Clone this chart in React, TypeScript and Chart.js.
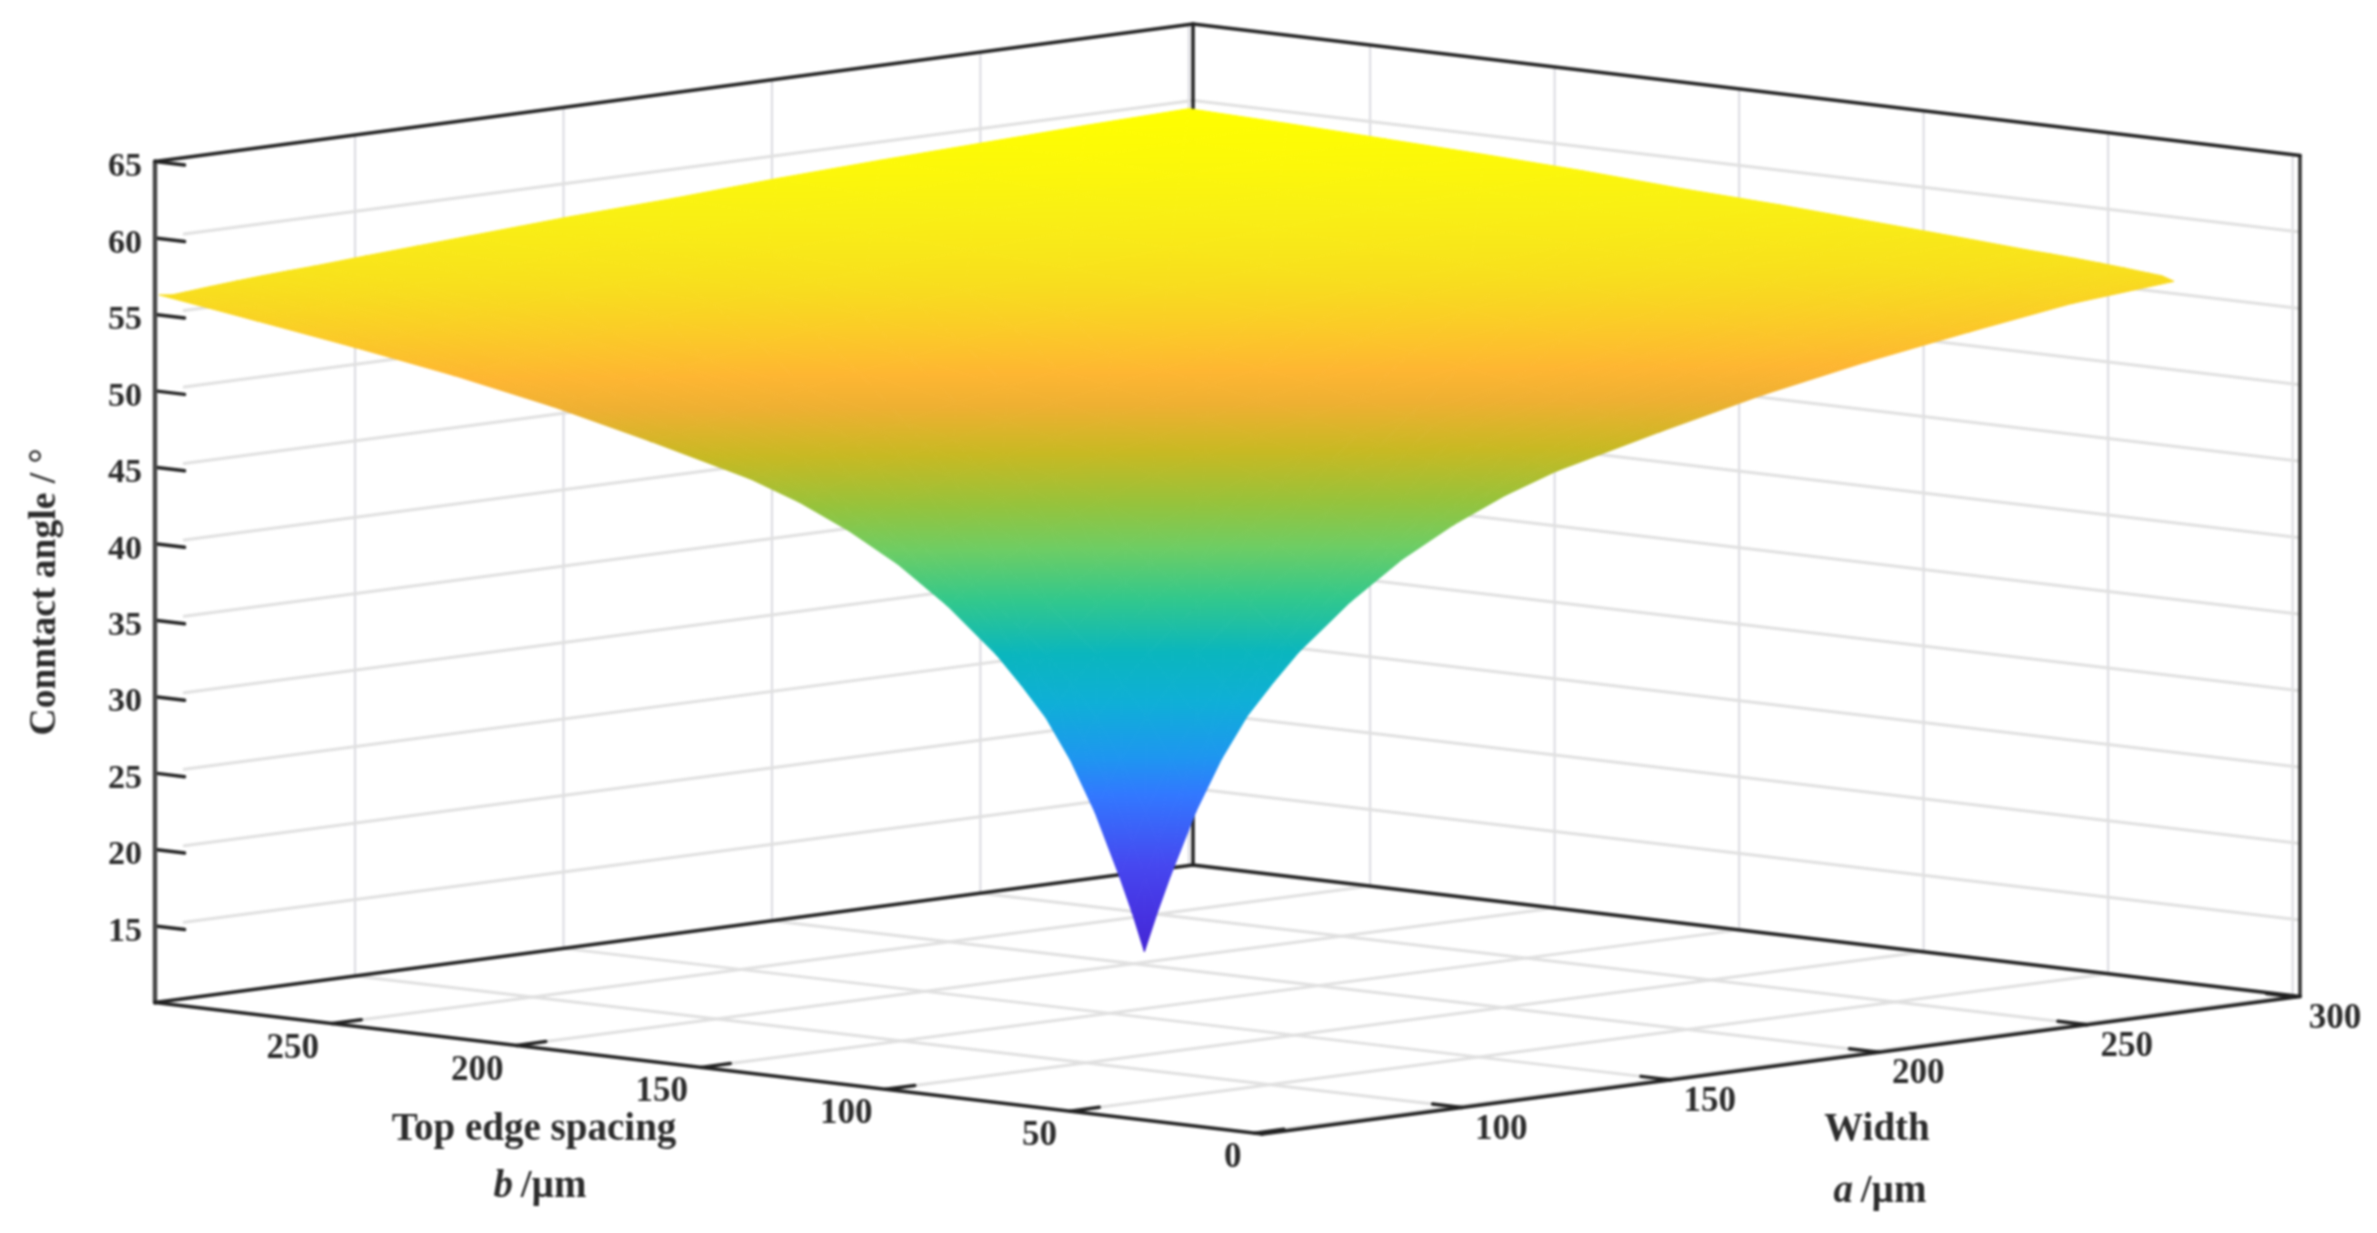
import React, { useEffect, useRef } from "react";
import { Chart, registerables } from "chart.js";

Chart.register(...registerables);

// ---- axis limits and ticks ----
const aLimits = [52, 301];
const bLimits = [-2, 298];
const zLimits = [10, 65];
const aTicks = [100, 150, 200, 250, 300];
const bTicks = [0, 50, 100, 150, 200, 250];
const zTicks = [15, 20, 25, 30, 35, 40, 45, 50, 55, 60, 65];

// ---- surface ----
const aValues = [53, 56.1, 59.2, 65.4, 71.5, 77.7, 83.9, 90, 102.4, 114.8, 127.1, 139.5, 151.8, 176.5, 201.2, 225.9, 250.6, 275.3, 300];
const bValues = [31, 34.3, 37.7, 44.4, 51, 57.7, 64.4, 71, 84.4, 97.8, 111.1, 124.5, 137.8, 164.5, 191.2, 217.9, 244.6, 271.3, 298];
const contactAngle = [
  [20.94, 23.39, 25.63, 29.68, 32.87, 35.47, 37.42, 39.18, 42.03, 44.36, 46.17, 47.65, 48.8, 50.46, 51.99, 53.25, 54.31, 55.29, 56.24],
  [23.39, 25.63, 27.75, 31.41, 34.27, 36.48, 38.33, 39.92, 42.65, 44.85, 46.56, 47.97, 49.06, 50.65, 52.14, 53.37, 54.44, 55.41, 56.13],
  [25.63, 27.75, 29.68, 32.87, 35.47, 37.42, 39.18, 40.63, 43.2, 45.33, 46.94, 48.26, 49.28, 50.84, 52.3, 53.5, 54.57, 55.5, 56.2],
  [29.68, 31.41, 32.87, 35.47, 37.42, 39.18, 40.63, 42.03, 44.36, 46.17, 47.65, 48.8, 49.7, 51.22, 52.61, 53.78, 54.82, 55.69, 56.35],
  [32.87, 34.27, 35.47, 37.42, 39.18, 40.63, 42.03, 43.2, 45.33, 46.94, 48.26, 49.28, 50.08, 51.6, 52.93, 54.07, 55.07, 55.88, 56.48],
  [35.47, 36.48, 37.42, 39.18, 40.63, 42.03, 43.2, 44.36, 46.17, 47.65, 48.8, 49.7, 50.46, 51.99, 53.25, 54.31, 55.29, 56.06, 56.6],
  [37.42, 38.33, 39.18, 40.63, 42.03, 43.2, 44.36, 45.33, 46.94, 48.26, 49.28, 50.08, 50.84, 52.3, 53.5, 54.57, 55.5, 56.2, 56.7],
  [39.18, 39.92, 40.63, 42.03, 43.2, 44.36, 45.33, 46.17, 47.65, 48.8, 49.7, 50.46, 51.22, 52.61, 53.78, 54.82, 55.69, 56.35, 56.78],
  [42.03, 42.65, 43.2, 44.36, 45.33, 46.17, 46.94, 47.65, 48.8, 49.7, 50.46, 51.22, 51.99, 53.25, 54.31, 55.29, 56.06, 56.6, 57.0],
  [44.36, 44.85, 45.33, 46.17, 46.94, 47.65, 48.26, 48.8, 49.7, 50.46, 51.22, 51.99, 52.61, 53.78, 54.82, 55.69, 56.35, 56.78, 57.2],
  [46.17, 46.56, 46.94, 47.65, 48.26, 48.8, 49.28, 49.7, 50.46, 51.22, 51.99, 52.61, 53.25, 54.31, 55.29, 56.06, 56.6, 57.0, 57.4],
  [47.65, 47.97, 48.26, 48.8, 49.28, 49.7, 50.08, 50.46, 51.22, 51.99, 52.61, 53.25, 53.78, 54.82, 55.69, 56.35, 56.78, 57.2, 57.6],
  [48.8, 49.06, 49.28, 49.7, 50.08, 50.46, 50.84, 51.22, 51.99, 52.61, 53.25, 53.78, 54.31, 55.29, 56.06, 56.6, 57.0, 57.4, 57.8],
  [50.46, 50.65, 50.84, 51.22, 51.6, 51.99, 52.3, 52.61, 53.25, 53.78, 54.31, 54.82, 55.29, 56.06, 56.6, 57.0, 57.4, 57.8, 58.1],
  [51.99, 52.14, 52.3, 52.61, 52.93, 53.25, 53.5, 53.78, 54.31, 54.82, 55.29, 55.69, 56.06, 56.6, 57.0, 57.4, 57.8, 58.1, 58.5],
  [53.25, 53.37, 53.5, 53.78, 54.07, 54.31, 54.57, 54.82, 55.29, 55.69, 56.06, 56.35, 56.6, 57.0, 57.4, 57.8, 58.1, 58.5, 58.8],
  [54.31, 54.44, 54.57, 54.82, 55.07, 55.29, 55.5, 55.69, 56.06, 56.35, 56.6, 56.78, 57.0, 57.4, 57.8, 58.1, 58.5, 58.8, 59.05],
  [55.29, 55.41, 55.5, 55.69, 55.88, 56.06, 56.2, 56.35, 56.6, 56.78, 57.0, 57.2, 57.4, 57.8, 58.1, 58.5, 58.8, 59.05, 59.3],
  [55.86, 56.13, 56.2, 56.35, 56.48, 56.6, 56.7, 56.78, 57.0, 57.2, 57.4, 57.6, 57.8, 58.1, 58.5, 58.8, 59.05, 59.3, 59.5],
];

// ---- colour map: contact angle -> colour ----
const mapAngles = [20.9, 23.2, 26.4, 30.7, 33, 36.3, 39.2, 42.3, 45.1, 47.4, 49.8, 51.8, 53.1, 56.2, 57.8, 59.5];
const mapColors = [
  [68, 38, 212], [70, 50, 225], [70, 72, 240], [50, 120, 255], [30, 150, 240],
  [15, 175, 215], [10, 182, 190], [50, 200, 140], [110, 205, 100], [150, 195, 60],
  [200, 185, 35], [238, 176, 50], [254, 182, 50], [248, 222, 30], [249, 240, 20], [255, 255, 0],
];

const WIDTH = 2377;
const HEIGHT = 1233;
const SERIF = '"Liberation Serif", "Times New Roman", serif';
const TEXT = "#2c2c2c";
const DARK = "#222222";
const GRID = "#e0e0e0";
const WALL = "#dadae0";

// Orthographic view of the box: the front floor corner and what one data unit moves on the page.
const view = {
  ox: 1262, oy: 1134,
  ax: 1038 / (aLimits[1] - aLimits[0]), ay: -137.5 / (aLimits[1] - aLimits[0]),
  bx: -1107 / (bLimits[1] - bLimits[0]), by: -131.5 / (bLimits[1] - bLimits[0]),
  zy: -841 / (zLimits[1] - zLimits[0]),
};
function project(a: number, b: number, z: number) {
  const da = a - aLimits[0];
  const db = b - bLimits[0];
  const dz = z - zLimits[0];
  return {
    x: view.ox + da * view.ax + db * view.bx,
    y: view.oy + da * view.ay + db * view.by + dz * view.zy,
  };
}

function colorAt(z: number) {
  const n = mapAngles.length;
  if (z <= mapAngles[0]) return `rgb(${mapColors[0].join(",")})`;
  if (z >= mapAngles[n - 1]) return `rgb(${mapColors[n - 1].join(",")})`;
  let i = 0;
  while (z > mapAngles[i + 1]) i++;
  const f = (z - mapAngles[i]) / (mapAngles[i + 1] - mapAngles[i]);
  const c = mapColors[i].map((v, k) => Math.round(v + (mapColors[i + 1][k] - v) * f));
  return `rgb(${c.join(",")})`;
}

type V = { a: number; b: number; z: number };

// Gradient that follows the angle across one triangle of the surface.
function triangleFill(chart: any, tri: V[]) {
  const sx = chart.scales.x;
  const sy = chart.scales.y;
  const p = tri.map((v) => {
    const q = project(v.a, v.b, v.z);
    const x = sx ? sx.getPixelForValue(q.x) : NaN;
    const y = sy ? sy.getPixelForValue(q.y) : NaN;
    // before the first layout the scales have no size yet; the page maps 1:1 to them
    return { x: Number.isFinite(x) ? x : q.x, y: Number.isFinite(y) ? y : q.y, z: v.z };
  });
  const ux = p[1].x - p[0].x, uy = p[1].y - p[0].y, uz = p[1].z - p[0].z;
  const wx = p[2].x - p[0].x, wy = p[2].y - p[0].y, wz = p[2].z - p[0].z;
  const det = ux * wy - uy * wx;
  const zLow = Math.min(p[0].z, p[1].z, p[2].z);
  const zHigh = Math.max(p[0].z, p[1].z, p[2].z);
  if (Math.abs(det) < 1e-6 || zHigh - zLow < 1e-6) return colorAt(zLow);
  const gx = (uz * wy - uy * wz) / det;
  const gy = (ux * wz - uz * wx) / det;
  const g2 = gx * gx + gy * gy;
  const start = p.find((q) => q.z === zLow)!;
  const len = (zHigh - zLow) / g2;
  const grad = chart.ctx.createLinearGradient(start.x, start.y, start.x + gx * len, start.y + gy * len);
  grad.addColorStop(0, colorAt(zLow));
  mapAngles.forEach((m) => {
    if (m > zLow && m < zHigh) grad.addColorStop((m - zLow) / (zHigh - zLow), colorAt(m));
  });
  grad.addColorStop(1, colorAt(zHigh));
  return grad;
}

function surfaceDatasets() {
  const out: any[] = [];
  const vertex = (i: number, j: number): V => ({ a: aValues[i], b: bValues[j], z: contactAngle[i][j] });
  for (let i = 0; i < aValues.length - 1; i++) {
    for (let j = 0; j < bValues.length - 1; j++) {
      const tris = [
        [vertex(i, j), vertex(i + 1, j), vertex(i + 1, j + 1)],
        [vertex(i, j), vertex(i + 1, j + 1), vertex(i, j + 1)],
      ];
      tris.forEach((tri) => {
        const paint = (ctx: any) => triangleFill(ctx.chart, tri);
        out.push({
          data: [...tri, tri[0]].map((v) => project(v.a, v.b, v.z)),
          showLine: true,
          fill: "shape",
          tension: 0,
          pointRadius: 0,
          borderWidth: 1,
          borderJoinStyle: "round",
          backgroundColor: paint,
          borderColor: paint,
        });
      });
    }
  }
  return out;
}

function line(from: number[], to: number[], color: string, width: number) {
  return {
    data: [project(from[0], from[1], from[2]), project(to[0], to[1], to[2])],
    showLine: true,
    fill: false,
    tension: 0,
    pointRadius: 0,
    borderColor: color,
    borderWidth: width,
    borderCapStyle: "round",
  };
}

function axisDatasets() {
  const [a0, a1] = aLimits;
  const [b0, b1] = bLimits;
  const [z0, z1] = zLimits;
  const aTickLen = 7;
  const bTickLen = 8;
  const box = [
    line([a0, b0, z0], [a1, b0, z0], DARK, 3.5),
    line([a0, b0, z0], [a0, b1, z0], DARK, 3.5),
    line([a0, b1, z0], [a1, b1, z0], DARK, 3.5),
    line([a1, b0, z0], [a1, b1, z0], DARK, 3.5),
    line([a0, b1, z1], [a1, b1, z1], DARK, 3.5),
    line([a1, b0, z1], [a1, b1, z1], DARK, 3.5),
    line([a0, b1, z0], [a0, b1, z1], "#484848", 4.5),
    line([a1, b0, z0], [a1, b0, z1], "#333333", 3.5),
    line([a1, b1, z0], [a1, b1, z1], DARK, 3.5),
  ];
  const ticks = [
    ...aTicks.map((a) => line([a, b0, z0], [a, b0 + bTickLen, z0], DARK, 3.5)),
    ...bTicks.map((b) => line([a0, b, z0], [a0 + aTickLen, b, z0], DARK, 3.5)),
    ...zTicks.map((z) => line([a0, b1, z], [a0, b1 - bTickLen, z], DARK, 3.5)),
  ];
  const zGrid = zTicks.filter((z) => z < z1);
  const grid = [
    ...zGrid.map((z) => line([a0 + aTickLen, b1, z], [a1, b1, z], GRID, 3)),
    ...zGrid.map((z) => line([a1, b0, z], [a1, b1, z], GRID, 3)),
    ...aTicks.map((a) => line([a, b1, z0], [a, b1, z1], WALL, 2)),
    ...bTicks.map((b) => line([a1, b, z0], [a1, b, z1], WALL, 2)),
    ...aTicks.map((a) => line([a, b0 + bTickLen, z0], [a, b1, z0], GRID, 3)),
    ...bTicks.map((b) => line([a0 + aTickLen, b, z0], [a1, b, z0], GRID, 3)),
  ];
  return [...box, ...ticks, ...grid];
}

const labelsPlugin = {
  id: "boxLabels",
  afterDraw(chart: any) {
    const { ctx } = chart;
    const px = (p: { x: number; y: number }) => ({
      x: chart.scales.x.getPixelForValue(p.x),
      y: chart.scales.y.getPixelForValue(p.y),
    });
    const put = (text: string, x: number, y: number, align: CanvasTextAlign) => {
      ctx.textAlign = align;
      ctx.fillText(text, x, y);
    };
    ctx.save();
    ctx.fillStyle = TEXT;
    ctx.textBaseline = "middle";
    ctx.font = `bold 34px ${SERIF}`;
    zTicks.forEach((z) => {
      const p = px(project(aLimits[0], bLimits[1], z));
      put(String(z), p.x - 13, p.y + 6, "right");
    });
    ctx.font = `bold 35px ${SERIF}`;
    bTicks.forEach((b) => {
      const p = px(project(aLimits[0], b, zLimits[0]));
      put(String(b), p.x - 13, p.y + 25, "right");
    });
    aTicks.forEach((a) => {
      const p = px(project(a, bLimits[0], zLimits[0]));
      put(String(a), p.x + 13, p.y + 22, "left");
    });

    ctx.font = `bold 39px ${SERIF}`;
    put("Top edge spacing", 534, 1130, "center");
    put("Width", 1877, 1130, "center");

    const mixed = (italic: string, rest: string, cx: number, y: number) => {
      ctx.font = `italic bold 39px ${SERIF}`;
      const w1 = ctx.measureText(italic).width;
      ctx.font = `bold 39px ${SERIF}`;
      const w2 = ctx.measureText(rest).width;
      const x = cx - (w1 + w2) / 2;
      ctx.font = `italic bold 39px ${SERIF}`;
      put(italic, x, y, "left");
      ctx.font = `bold 39px ${SERIF}`;
      put(rest, x + w1, y, "left");
    };
    mixed("b", "\u2009/\u00b5m", 540, 1187);
    mixed("a", "\u2009/\u00b5m", 1880, 1192);

    ctx.translate(45, 592);
    ctx.rotate(-Math.PI / 2);
    ctx.font = `bold 37.5px ${SERIF}`;
    put("Conntact angle / \u00b0", 0, 0, "center");
    ctx.restore();
  },
};

export default function App() {
  const ref = useRef<HTMLCanvasElement>(null);
  useEffect(() => {
    if (!ref.current) return;
    const chart = new Chart(ref.current, {
      type: "scatter",
      data: { datasets: [...surfaceDatasets(), ...axisDatasets()] as any },
      options: {
        animation: false,
        responsive: false,
        devicePixelRatio: 1,
        layout: { padding: 0 },
        clip: false as any,
        plugins: { legend: { display: false }, tooltip: { enabled: false } },
        events: [],
        scales: {
          x: { type: "linear", min: 0, max: WIDTH, display: false },
          y: { type: "linear", min: 0, max: HEIGHT, reverse: true, display: false },
        },
      },
      plugins: [labelsPlugin],
    });
    return () => chart.destroy();
  }, []);
  return (
    <div style={{ position: "fixed", left: 0, top: 0, width: WIDTH, height: HEIGHT, background: "#fff" }}>
      <canvas ref={ref} width={WIDTH} height={HEIGHT} style={{ display: "block", filter: "blur(0.8px)" }} />
    </div>
  );
}
